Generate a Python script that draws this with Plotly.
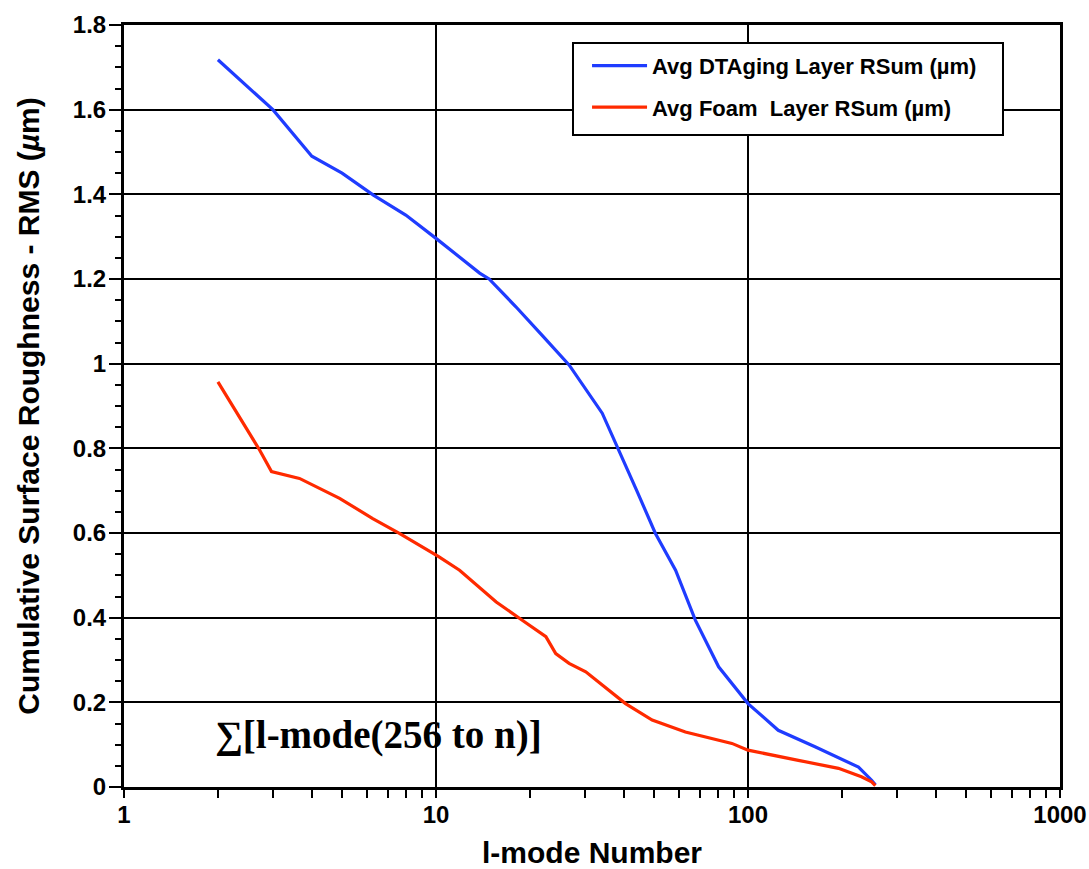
import plotly.graph_objects as go

# I-mode numbers and cumulative roughness values
blue_x = [2, 3, 4, 5, 6.3, 8, 10, 12, 13.8, 14.8, 18, 22, 26.7, 34.1, 38.6, 44, 50.5, 58.6, 67.8, 80.5, 100, 125, 164, 226, 249, 256]
blue_y = [1.718, 1.60, 1.49, 1.45, 1.398, 1.351, 1.296, 1.25, 1.214, 1.20, 1.135, 1.065, 0.997, 0.883, 0.796, 0.70, 0.599, 0.512, 0.394, 0.284, 0.197, 0.134, 0.095, 0.047, 0.016, 0.005]

red_x = [2, 2.72, 2.97, 3.65, 4.91, 6.27, 7.63, 10.2, 11.9, 15.6, 18.9, 22.5, 24.2, 26.7, 30.2, 40.5, 49.3, 63, 88.8, 100, 145, 195, 231, 249, 256]
red_y = [0.957, 0.796, 0.745, 0.729, 0.682, 0.634, 0.599, 0.544, 0.512, 0.437, 0.394, 0.355, 0.315, 0.292, 0.272, 0.197, 0.158, 0.130, 0.103, 0.087, 0.063, 0.044, 0.024, 0.012, 0.003]

blue_name = "Avg DTAging Layer RSum (µm)"
red_name = "Avg Foam  Layer RSum (µm)"

FONT = "Liberation Sans, Arial, Helvetica, sans-serif"

fig = go.Figure()
fig.add_trace(go.Scatter(x=blue_x, y=blue_y, mode="lines", name=blue_name,
                         line=dict(color="#1f3cff", width=3.2), legendgroup="a"))
fig.add_trace(go.Scatter(x=red_x, y=red_y, mode="lines", name=red_name,
                         line=dict(color="#ff2a00", width=3.2), legendgroup="b"))

fig.update_layout(
    width=1089, height=869,
    margin=dict(l=124, r=29, t=25, b=82),
    paper_bgcolor="white", plot_bgcolor="white",
    font=dict(family=FONT, color="black", size=20),
    legend=dict(
        x=0.4947, y=0.974, xanchor="left", yanchor="top",
        borderwidth=0, bgcolor="rgba(0,0,0,0)",
        font=dict(family=FONT, size=22, weight="bold", color="black"),
        traceorder="grouped", tracegroupgap=10,
        itemwidth=55,
    ),
    xaxis=dict(
        type="log", range=[0, 3], dtick=1, automargin=False,
        showline=True, linewidth=3, linecolor="black", mirror=True,
        showgrid=True, gridcolor="black", gridwidth=1.5,
        ticks="outside", ticklen=8, tickwidth=2, tickcolor="black",
        ticklabelstandoff=-4,
        tickfont=dict(family=FONT, size=24, weight="bold"),
        minor=dict(ticks="outside", ticklen=8, tickwidth=2, tickcolor="black", showgrid=False),
        title=dict(text="l-mode Number", font=dict(family=FONT, size=30, weight="bold"), standoff=18),
        zeroline=False,
    ),
    yaxis=dict(
        range=[0, 1.8], dtick=0.2, automargin=False,
        showline=True, linewidth=3, linecolor="black", mirror=True,
        showgrid=True, gridcolor="black", gridwidth=1.5,
        ticks="outside", ticklen=12, tickwidth=2, tickcolor="black",
        ticklabelstandoff=-2,
        tickfont=dict(family=FONT, size=24, weight="bold"),
        minor=dict(dtick=0.05, ticks="outside", ticklen=6, tickwidth=2, tickcolor="black", showgrid=False),
        title=dict(text="Cumulative Surface Roughness - RMS (<i>µ</i>m)",
                   font=dict(family=FONT, size=30, weight="bold"), standoff=25),
        zeroline=False,
    ),
    showlegend=True,
)

# legend frame
fig.add_shape(type="rect", xref="paper", yref="paper",
              x0=0.4797, x1=0.9391, y0=0.8556, y1=0.9764,
              line=dict(color="black", width=2), fillcolor="white", layer="above")

fig.add_annotation(
    xref="paper", yref="y", x=0.272, y=0.122, xanchor="center", yanchor="middle",
    text="∑[l-mode(256 to n)]", showarrow=False,
    font=dict(family="Liberation Serif, Times New Roman, serif", size=39, weight="bold", color="black"),
)

fig.write_html("out.html")
